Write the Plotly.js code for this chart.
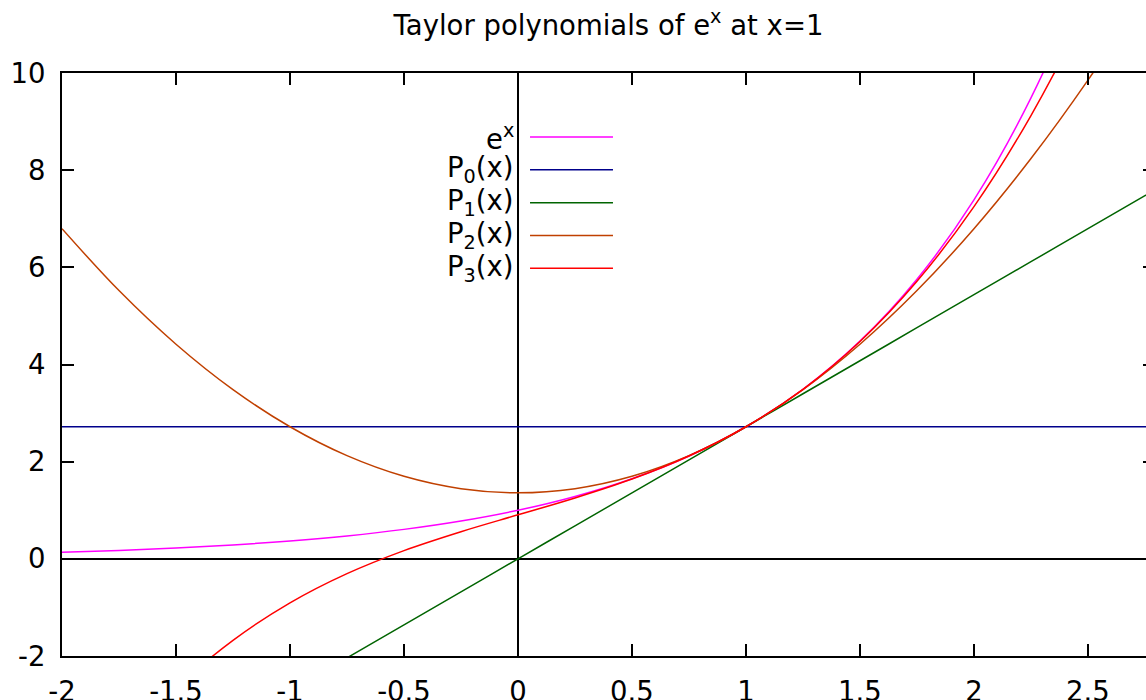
<!DOCTYPE html>
<html><head><meta charset="utf-8">
<script src="https://cdn.plot.ly/plotly-3.0.1.min.js"></script>
<style>html,body{margin:0;padding:0;overflow:hidden;background:#fff}#chart{width:1160px;height:720px}</style>
</head><body><div id="chart"></div>
<script>
// sample points (x) and curve values
const xs      = [-2, -1.75, -1.5, -1.25, -1, -0.75, -0.5, -0.25, 0, 0.25, 0.5, 0.75, 1, 1.25, 1.5, 1.75, 2, 2.25, 2.5, 2.75, 3];
const expVals = [0.1353, 0.1738, 0.2231, 0.2865, 0.3679, 0.4724, 0.6065, 0.7788, 1.0, 1.2840, 1.6487, 2.1170, 2.7183, 3.4903, 4.4817, 5.7546, 7.3891, 9.4877, 12.1825, 15.6426, 20.0855];
const p0Vals  = [2.7183, 2.7183, 2.7183, 2.7183, 2.7183, 2.7183, 2.7183, 2.7183, 2.7183, 2.7183, 2.7183, 2.7183, 2.7183, 2.7183, 2.7183, 2.7183, 2.7183, 2.7183, 2.7183, 2.7183, 2.7183];
const p1Vals  = [-5.4366, -4.7570, -4.0774, -3.3979, -2.7183, -2.0387, -1.3591, -0.6796, 0, 0.6796, 1.3591, 2.0387, 2.7183, 3.3979, 4.0774, 4.7570, 5.4366, 6.1162, 6.7957, 7.4753, 8.1548];
const p2Vals  = [6.7957, 5.5216, 4.4172, 3.4828, 2.7183, 2.1237, 1.6989, 1.4441, 1.3591, 1.4441, 1.6989, 2.1237, 2.7183, 3.4828, 4.4172, 5.5216, 6.7957, 8.2398, 9.8538, 11.6378, 13.5914];
const p3Vals  = [-5.4366, -3.9004, -2.6617, -1.6777, -0.9061, -0.3044, 0.1699, 0.5592, 0.9061, 1.2530, 1.6423, 2.1166, 2.7183, 3.4900, 4.4739, 5.7127, 7.2488, 9.1247, 11.3828, 14.0657, 17.2152];

const seriesNames = ['e<sup>x</sup>', 'P<sub>0</sub>(x)', 'P<sub>1</sub>(x)', 'P<sub>2</sub>(x)', 'P<sub>3</sub>(x)'];
const seriesVals  = [expVals, p0Vals, p1Vals, p2Vals, p3Vals];
const seriesColors = ['#ff00ff', '#00008b', '#006400', '#c04000', '#ff0000'];

const xTickVals = [-2, -1.5, -1, -0.5, 0, 0.5, 1, 1.5, 2, 2.5];
const xTickText = ['-2', '-1.5', '-1', '-0.5', '0', '0.5', '1', '1.5', '2', '2.5'];
const yTickVals = [-2, 0, 2, 4, 6, 8, 10];
const yTickText = ['-2', '0', '2', '4', '6', '8', '10'];

const FONT = 'DejaVu Sans, sans-serif';
const FS = 27.5;
const traces = seriesVals.map((v, i) => ({
  x: xs, y: v, type: 'scatter', mode: 'lines', name: seriesNames[i],
  line: {color: seriesColors[i], width: 1.5, shape: 'spline'},
  showlegend: false, hoverinfo: 'skip'
}));

// legend drawn gnuplot-style: right-aligned text then line sample
const legTop = 0.8902, legStep = 0.0563;
const annotations = seriesNames.map((n, i) => ({
  xref: 'paper', yref: 'paper', x: 0.4155, y: legTop - i * legStep,
  xanchor: 'right', yanchor: 'middle', text: n, showarrow: false,
  font: {family: FONT, size: FS, color: '#000'}
}));
const shapes = seriesColors.map((c, i) => ({
  type: 'line', xref: 'paper', yref: 'paper',
  x0: 0.4282, x1: 0.5041, y0: legTop - i * legStep, y1: legTop - i * legStep,
  line: {color: c, width: 1.5}
}));

const axisCommon = {
  showline: true, linecolor: '#000', linewidth: 2, mirror: 'ticks',
  ticks: 'inside', ticklen: 12, tickwidth: 2, tickcolor: '#000',
  showgrid: false, zeroline: true, zerolinecolor: '#000', zerolinewidth: 2,
  tickfont: {family: FONT, size: FS, color: '#000'}, layer: 'above traces'
};

const layout = {
  width: 1160, height: 720,
  margin: {l: 62, r: 5, t: 73, b: 64},
  paper_bgcolor: '#fff', plot_bgcolor: '#fff',
  title: {text: 'Taylor polynomials of e<sup>x</sup> at x=1', x: 0.5, xref: 'paper',
          y: 0.965, yref: 'container', yanchor: 'middle',
          font: {family: FONT, size: FS, color: '#000'}},
  xaxis: Object.assign({}, axisCommon, {range: [-2, 2.794], tickmode: 'array', tickvals: xTickVals, ticktext: xTickText, ticklabelstandoff: 10}),
  yaxis: Object.assign({}, axisCommon, {range: [-2, 10], tickmode: 'array', tickvals: yTickVals, ticktext: yTickText, ticklabelstandoff: 9}),
  annotations: annotations, shapes: shapes
};

Plotly.newPlot('chart', traces, layout, {staticPlot: true, displayModeBar: false});
</script></body></html>
